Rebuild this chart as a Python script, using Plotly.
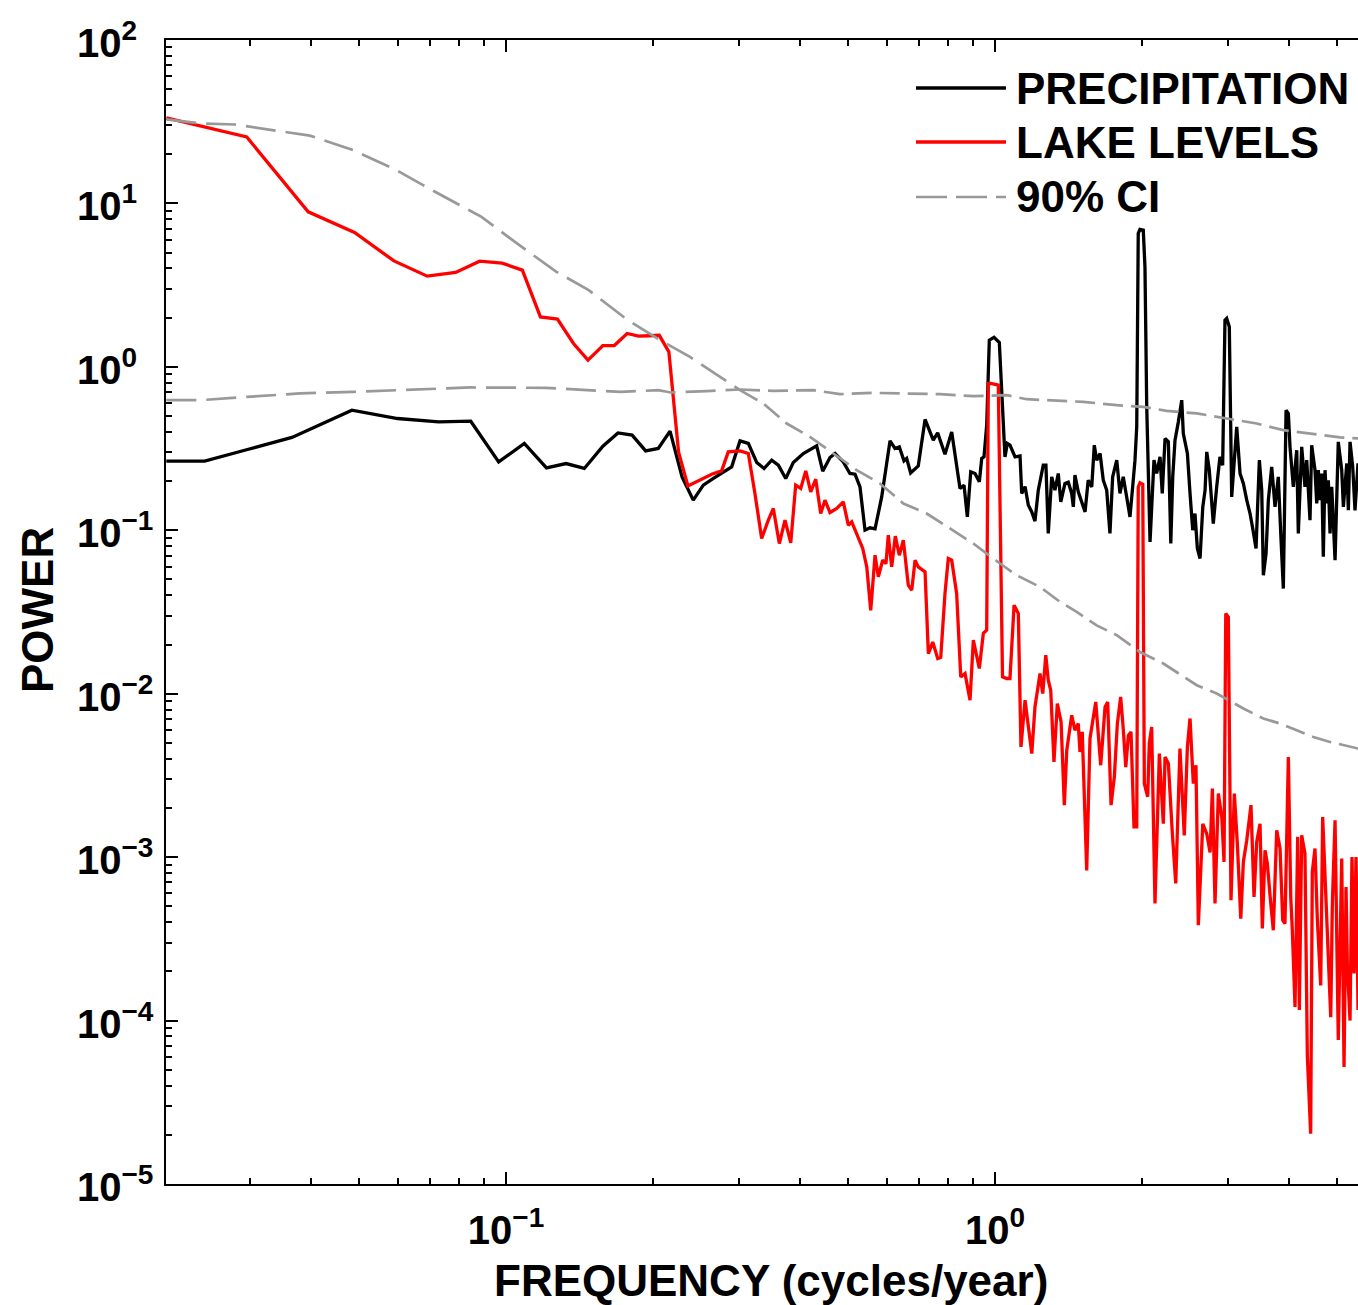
import math
import plotly.graph_objects as go

# ---- spectral estimates (frequency in cycles/year, power) ----
precip_freq = [
    0.0202, 0.0242, 0.0296, 0.0365, 0.0484, 0.0600, 0.0728, 0.0847, 0.0966, 0.109,
    0.121, 0.1327, 0.1446, 0.1578, 0.1694, 0.1811, 0.193, 0.2048, 0.2165, 0.2228,
    0.2291, 0.2415, 0.2532, 0.2655, 0.276, 0.2894, 0.301, 0.313, 0.3256, 0.337,
    0.3494, 0.3605, 0.3733, 0.3868, 0.4055, 0.4318, 0.4443, 0.4598, 0.4709, 0.4895,
    0.505, 0.5173, 0.5295, 0.5422, 0.555, 0.5684, 0.5865, 0.610, 0.6244, 0.6372,
    0.6514, 0.6597, 0.6722, 0.6967, 0.7194, 0.7477, 0.7633, 0.7901, 0.8155, 0.8323,
    0.848, 0.8642, 0.8778, 0.892, 0.9102, 0.9288, 0.9393, 0.9495, 0.9616, 0.9735,
    0.9954, 1.0205, 1.040, 1.048, 1.0597, 1.073, 1.099, 1.125, 1.134, 1.152,
    1.170, 1.189, 1.207, 1.226, 1.255, 1.271, 1.285, 1.306, 1.326, 1.347,
    1.363, 1.390, 1.412, 1.435, 1.446, 1.457, 1.480, 1.504, 1.528, 1.551,
    1.577, 1.596, 1.614, 1.640, 1.665, 1.692, 1.718, 1.740, 1.774, 1.801,
    1.829, 1.859, 1.888, 1.912, 1.933, 1.949, 1.963, 1.979, 2.010, 2.026,
    2.043, 2.075, 2.091, 2.114, 2.141, 2.175, 2.198, 2.227, 2.262, 2.288,
    2.309, 2.334, 2.371, 2.409, 2.427, 2.474, 2.505, 2.537, 2.564, 2.593,
    2.626, 2.660, 2.689, 2.710, 2.743, 2.795, 2.840, 2.884, 2.921, 2.953,
    2.977, 3.014, 3.048, 3.082, 3.121, 3.170, 3.220, 3.272, 3.323, 3.370,
    3.418, 3.472, 3.511, 3.538, 3.583, 3.622, 3.680, 3.738, 3.796, 3.840,
    3.887, 3.937, 3.980, 4.011, 4.074, 4.140, 4.171, 4.238, 4.304, 4.339,
    4.407, 4.442, 4.512, 4.549, 4.583, 4.619, 4.657, 4.692, 4.730, 4.767,
    4.804, 4.843, 4.882, 4.959, 5.035, 5.117, 5.157, 5.240, 5.279, 5.321,
    5.389, 5.447, 5.525, 5.70,
]
precip_power = [
    0.265, 0.265, 0.312, 0.370, 0.543, 0.483, 0.461, 0.465, 0.262, 0.340,
    0.241, 0.256, 0.239, 0.327, 0.394, 0.382, 0.306, 0.317, 0.404, 0.295,
    0.212, 0.153, 0.189, 0.2075, 0.2226, 0.2444, 0.3526, 0.340, 0.260, 0.2388,
    0.2686, 0.2502, 0.2075, 0.260, 0.295, 0.3286, 0.230, 0.279, 0.295, 0.262,
    0.2227, 0.2205, 0.1843, 0.1002, 0.1035, 0.102, 0.160, 0.3526, 0.3167, 0.324,
    0.266, 0.275, 0.2245, 0.2477, 0.4766, 0.356, 0.3946, 0.2922, 0.4001, 0.2686,
    0.180, 0.1888, 0.1208, 0.2277, 0.2227, 0.1978, 0.275, 0.2813, 0.4397, 1.457,
    1.514, 1.41, 0.4293, 0.2813, 0.340, 0.3317, 0.2813, 0.285, 0.168, 0.185,
    0.1424, 0.1296, 0.1137, 0.1759, 0.2503, 0.2503, 0.0956, 0.2122, 0.1759, 0.2227,
    0.1492, 0.1933, 0.197, 0.168, 0.139, 0.2174, 0.172, 0.1492, 0.1296, 0.2025,
    0.1843, 0.3317, 0.2685, 0.2951, 0.2025, 0.1759, 0.0956, 0.2122, 0.2685, 0.168,
    0.2122, 0.160, 0.1208, 0.1843, 0.2685, 0.4293, 6.55, 6.93, 6.87, 4.09,
    0.569, 0.0849, 0.1325, 0.2685, 0.2227, 0.2813, 0.168, 0.3646, 0.348, 0.083,
    0.2122, 0.3559, 0.4607, 0.6255, 0.391, 0.2951, 0.168, 0.1001, 0.1267, 0.0774,
    0.0672, 0.139, 0.1759, 0.3018, 0.2332, 0.110, 0.1843, 0.2813, 0.2503, 1.931,
    1.978, 1.757, 0.160, 0.2443, 0.4293, 0.2227, 0.1933, 0.1528, 0.1267, 0.1001,
    0.0774, 0.2685, 0.1759, 0.0531, 0.072, 0.1528, 0.2443, 0.139, 0.2122, 0.0956,
    0.044, 0.543, 0.5187, 0.3239, 0.1843, 0.3091, 0.0956, 0.3239, 0.1843, 0.2685,
    0.1153, 0.3317, 0.2332, 0.1459, 0.2332, 0.1528, 0.2227, 0.0688, 0.2332, 0.1459,
    0.2025, 0.0956, 0.1843, 0.0656, 0.3475, 0.2332, 0.139, 0.2563, 0.1325, 0.3475,
    0.2443, 0.1325, 0.2563, 0.20,
]

lake_freq = [
    0.0202, 0.0295, 0.0394, 0.0490, 0.0590, 0.0690, 0.0789, 0.0883, 0.0982, 0.1080,
    0.1176, 0.1274, 0.1374, 0.1471, 0.1578, 0.1665, 0.1769, 0.1867, 0.1961, 0.2058,
    0.2153, 0.2254, 0.2355, 0.2493, 0.2634, 0.276, 0.2848, 0.301, 0.313, 0.3229,
    0.3333, 0.3439, 0.3521, 0.3622, 0.372, 0.3822, 0.3912, 0.4006, 0.4102, 0.4199,
    0.4299, 0.4401, 0.449, 0.4598, 0.4746, 0.4895, 0.5012, 0.5093, 0.5214, 0.5364,
    0.5467, 0.5570, 0.5684, 0.5773, 0.5892, 0.5985, 0.605, 0.6148, 0.6253, 0.6372,
    0.6494, 0.6648, 0.6757, 0.6863, 0.6967, 0.7194, 0.7306, 0.7459, 0.7636, 0.7745,
    0.7901, 0.8025, 0.8155, 0.8348, 0.851, 0.8683, 0.889, 0.903, 0.9288, 0.9465,
    0.9616, 0.9689, 0.98, 1.0, 1.0156, 1.036, 1.057, 1.073, 1.094, 1.116,
    1.130, 1.152, 1.189, 1.207, 1.236, 1.252, 1.270, 1.285, 1.300, 1.320,
    1.341, 1.365, 1.386, 1.402, 1.435, 1.457, 1.480, 1.492, 1.508, 1.540,
    1.564, 1.607, 1.622, 1.645, 1.679, 1.700, 1.727, 1.754, 1.779, 1.807,
    1.829, 1.851, 1.874, 1.897, 1.924, 1.949, 1.963, 1.979, 2.005, 2.020,
    2.052, 2.068, 2.091, 2.124, 2.168, 2.209, 2.227, 2.262, 2.305, 2.342,
    2.389, 2.438, 2.474, 2.505, 2.544, 2.576, 2.605, 2.660, 2.710, 2.753,
    2.783, 2.818, 2.862, 2.909, 2.940, 2.964, 3.000, 3.038, 3.086, 3.130,
    3.181, 3.220, 3.272, 3.338, 3.386, 3.429, 3.483, 3.521, 3.566, 3.605,
    3.651, 3.708, 3.768, 3.827, 3.876, 3.917, 3.980, 4.025, 4.055, 4.107,
    4.159, 4.191, 4.238, 4.304, 4.352, 4.421, 4.455, 4.512, 4.561, 4.635,
    4.678, 4.752, 4.804, 4.859, 4.896, 4.959, 5.035, 5.117, 5.173, 5.222,
    5.255, 5.321, 5.370, 5.422, 5.473, 5.525, 5.70,
]
lake_power = [
    33.4, 25.5, 8.89, 6.64, 4.45, 3.59, 3.78, 4.43, 4.31, 3.91,
    2.02, 1.96, 1.39, 1.10, 1.35, 1.35, 1.60, 1.54, 1.55, 1.56,
    1.235, 0.30, 0.187, 0.2025, 0.2205, 0.2309, 0.3018, 0.306, 0.2951, 0.168,
    0.0891, 0.1153, 0.136, 0.083, 0.1153, 0.0837, 0.1888, 0.1803, 0.2309, 0.1718,
    0.2055, 0.1267, 0.1528, 0.1285, 0.136, 0.1492, 0.1074, 0.1125, 0.0956, 0.0774,
    0.0597, 0.0324, 0.0704, 0.0519, 0.0656, 0.0626, 0.0933, 0.0597, 0.092, 0.0704,
    0.087, 0.0461, 0.043, 0.0656, 0.0597, 0.0556, 0.0176, 0.0207, 0.0164, 0.0167,
    0.041, 0.0672, 0.0656, 0.041, 0.01267, 0.0133, 0.00913, 0.0213, 0.01427, 0.0234,
    0.0245, 0.791, 0.791, 0.78, 0.773, 0.01267, 0.01239, 0.01239, 0.0348, 0.031,
    0.00473, 0.00913, 0.0043, 0.0083, 0.0133, 0.01003, 0.0172, 0.0121, 0.0105, 0.00382,
    0.0087, 0.00672, 0.00208, 0.00451, 0.00738, 0.00598, 0.00657, 0.0044, 0.00584, 0.00083,
    0.00532, 0.0089, 0.00584, 0.00365, 0.0083, 0.0089, 0.00208, 0.0031, 0.00657, 0.00956,
    0.00612, 0.00356, 0.00557, 0.00584, 0.00153, 0.00153, 0.184, 0.195, 0.191, 0.00282,
    0.00234, 0.00496, 0.00626, 0.00052, 0.0043, 0.0016, 0.0041, 0.00374, 0.00139, 0.00069,
    0.00462, 0.00136, 0.00473, 0.00705, 0.00282, 0.00365, 0.000383, 0.0016, 0.00139, 0.00107,
    0.00263, 0.00052, 0.00245, 0.00176, 0.000935, 0.031, 0.0295, 0.000545, 0.00245, 0.00121,
    0.000421, 0.000935, 0.00127, 0.00208, 0.00057, 0.00124, 0.0016, 0.000366, 0.0011, 0.000914,
    0.000584, 0.000357, 0.00146, 0.00113, 0.000411, 0.000392, 0.0041, 0.00057, 0.000357, 0.000121,
    0.00133, 0.000116, 0.00136, 0.00105, 6.1e-5, 2.03e-5, 0.00081, 0.00113, 0.000421, 0.000164,
    0.00176, 0.00052, 0.000269, 0.000105, 0.00052, 0.00168, 7.6e-5, 0.00098, 5.2e-5, 0.000657,
    0.000213, 0.0001, 0.001, 0.000194, 0.001, 0.000116, 0.0005,
]

# 90% confidence levels for each spectrum
ci_lake_freq = [
    0.0202, 0.0237, 0.0279, 0.0295, 0.0397, 0.0487, 0.0592, 0.0716, 0.0891, 0.1053,
    0.1268, 0.1476, 0.1775, 0.2065, 0.2378, 0.274, 0.301, 0.336, 0.375, 0.4184,
    0.467, 0.5214, 0.5818, 0.6494, 0.7248, 0.809, 0.903, 1.024, 1.107, 1.236,
    1.358, 1.469, 1.614, 1.774, 1.979, 2.209, 2.427, 2.586, 2.840, 3.220,
    3.538, 3.827, 4.140, 4.476, 4.843, 5.157, 5.525, 5.9,
]
ci_lake_power = [
    32.7, 30.9, 30.4, 29.7, 26.0, 21.2, 16.2, 11.78, 8.28, 5.69,
    3.815, 2.947, 1.931, 1.457, 1.151, 0.869, 0.72, 0.597, 0.450, 0.373,
    0.295, 0.2332, 0.1933, 0.1459, 0.1267, 0.1026, 0.083, 0.0626, 0.0531, 0.045,
    0.0365, 0.0317, 0.0262, 0.0228, 0.018, 0.0153, 0.01267, 0.01127, 0.01003, 0.00812,
    0.00705, 0.00657, 0.00598, 0.00544, 0.00507, 0.00484, 0.00462, 0.0045,
]
ci_precip_freq = [
    0.0202, 0.0237, 0.0295, 0.0379, 0.0487, 0.0598, 0.0847, 0.1206, 0.1476, 0.1716,
    0.2048, 0.2172, 0.2573, 0.301, 0.3521, 0.4249, 0.482, 0.5638, 0.6597, 0.7719,
    0.903, 1.057, 1.161, 1.296, 1.516, 1.774, 2.010, 2.244, 2.586, 2.977,
    3.429, 3.887, 4.407, 5.076, 5.525, 5.9,
]
ci_precip_power = [
    0.6255, 0.6255, 0.655, 0.6875, 0.703, 0.720, 0.748, 0.744, 0.720, 0.703,
    0.720, 0.697, 0.710, 0.727, 0.713, 0.720, 0.681, 0.693, 0.6875, 0.681,
    0.662, 0.671, 0.634, 0.6255, 0.6106, 0.583, 0.569, 0.538, 0.519, 0.483,
    0.450, 0.410, 0.391, 0.370, 0.365, 0.36,
]

# axis ticks
x_tick_vals = [0.1, 1]
x_tick_text = ["10<sup>\u22121</sup>", "10<sup>0</sup>"]
y_tick_vals = [1e-5, 1e-4, 1e-3, 1e-2, 1e-1, 1, 10, 100]
y_tick_text = ["10<sup>\u22125</sup>", "10<sup>\u22124</sup>", "10<sup>\u22123</sup>",
               "10<sup>\u22122</sup>", "10<sup>\u22121</sup>", "10<sup>0</sup>",
               "10<sup>1</sup>", "10<sup>2</sup>"]

legend_labels = ["PRECIPITATION", "LAKE LEVELS", "90% CI"]

BLACK = "#000000"
RED = "#ff0000"
GRAY = "#999999"
FONT = "Liberation Sans, Helvetica, Arial, sans-serif"

W, H = 1358, 1305
ML, MR, MT, MB = 166, 0, 40, 121
PW, PH = W - ML - MR, H - MT - MB


def px_x(px):
    return (px - ML) / PW


def px_y(py):
    return (H - MB - py) / PH


fig = go.Figure()

fig.add_trace(go.Scatter(x=precip_freq, y=precip_power, mode="lines",
                         line=dict(color=BLACK, width=3.3), showlegend=False))
fig.add_trace(go.Scatter(x=lake_freq, y=lake_power, mode="lines",
                         line=dict(color=RED, width=3.3), showlegend=False))

# confidence curves: longer dashes at low frequency, shorter where the curve is dense
SPLIT = 0.301
for fr, pw in ((ci_precip_freq, ci_precip_power), (ci_lake_freq, ci_lake_power)):
    lo = [(f, p) for f, p in zip(fr, pw) if f <= SPLIT]
    hi = [(f, p) for f, p in zip(fr, pw) if f >= SPLIT]
    fig.add_trace(go.Scatter(x=[a for a, _ in lo], y=[b for _, b in lo], mode="lines",
                             line=dict(color=GRAY, width=2.7, dash="30px,10px"),
                             showlegend=False))
    fig.add_trace(go.Scatter(x=[a for a, _ in hi], y=[b for _, b in hi], mode="lines",
                             line=dict(color=GRAY, width=2.7, dash="20px,8px"),
                             showlegend=False))

x_minor = [d * 10.0 ** e for e in (-2, -1, 0) for d in range(2, 10)]
y_minor = [d * 10.0 ** e for e in range(-5, 2) for d in range(2, 10)]

tickfont = dict(family=FONT, size=40, color="black", weight="bold")
labelfont = dict(family=FONT, size=44, color="black", weight="bold")
common = dict(type="log", showline=True, linecolor="black", linewidth=2,
              ticks="inside", ticklen=12, tickwidth=1.5, tickcolor="black",
              tickmode="array", showgrid=False, zeroline=False, tickfont=tickfont)

fig.update_xaxes(range=[-1.6953, 0.7423], tickvals=x_tick_vals, ticktext=x_tick_text,
                 mirror="allticks", ticklabelstandoff=10,
                 minor=dict(tickmode="array", tickvals=x_minor, ticks="inside",
                            ticklen=6, tickwidth=1.5, tickcolor="black", showgrid=False),
                 **common)
# y labels are left-aligned on the "10", so they are placed as annotations below
fig.update_yaxes(range=[-5, 2], tickvals=y_tick_vals, ticktext=y_tick_text,
                 mirror=False, showticklabels=False,
                 minor=dict(tickmode="array", tickvals=y_minor, ticks="inside",
                            ticklen=6, tickwidth=1.5, tickcolor="black", showgrid=False),
                 **common)

annotations = []
for val, txt in zip(y_tick_vals, y_tick_text):
    annotations.append(dict(text=txt, xref="paper", yref="y", x=px_x(75),
                            y=math.log10(val), xanchor="left", yanchor="middle",
                            showarrow=False, font=tickfont))

# legend drawn as line samples plus labels
rows_y = [88, 142, 197]
styles = [dict(color=BLACK, width=3.3), dict(color=RED, width=3.3),
          dict(color=GRAY, width=2.7, dash="31px,9px")]
shapes = []
for label, ry, st in zip(legend_labels, rows_y, styles):
    shapes.append(dict(type="line", xref="paper", yref="paper",
                       x0=px_x(916), x1=px_x(1006), y0=px_y(ry), y1=px_y(ry), line=st))
    annotations.append(dict(text=label, xref="paper", yref="paper", x=px_x(1014),
                            y=px_y(ry), xanchor="left", yanchor="middle", showarrow=False,
                            font=labelfont))

annotations.append(dict(text="FREQUENCY (cycles/year)", xref="paper", yref="paper",
                        x=px_x(771), y=px_y(1280), xanchor="center", yanchor="middle",
                        showarrow=False, font=labelfont))
annotations.append(dict(text="POWER", xref="paper", yref="paper", textangle=-90,
                        x=px_x(37), y=px_y(610), xanchor="center", yanchor="middle",
                        showarrow=False, font=labelfont))

fig.update_layout(width=W, height=H, margin=dict(l=ML, r=MR, t=MT, b=MB, pad=0),
                  plot_bgcolor="white", paper_bgcolor="white",
                  font=dict(family=FONT, color="black", weight="bold"),
                  shapes=shapes, annotations=annotations, showlegend=False)

fig.write_html("out.html")
